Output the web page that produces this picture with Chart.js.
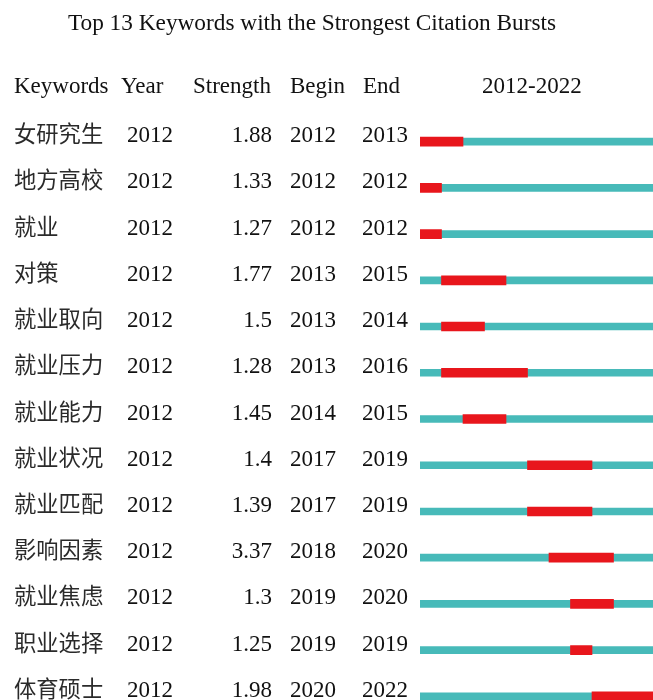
<!DOCTYPE html>
<html>
<head>
<meta charset="utf-8">
<script src="https://cdn.jsdelivr.net/npm/chart.js@4/dist/chart.umd.min.js"></script>
<style>
    html, body { margin: 0; padding: 0; background: #fff; overflow: hidden; }
    #wrap { position: relative; width: 660px; height: 720px; }
</style>
</head>
<body>
<div id="wrap"><canvas id="burstChart" width="660" height="720"></canvas></div>
<script>
// Burst table values
const keywords = ['女研究生', '地方高校', '就业', '对策', '就业取向', '就业压力', '就业能力',
    '就业状况', '就业匹配', '影响因素', '就业焦虑', '职业选择', '体育硕士'];
const years = [2012, 2012, 2012, 2012, 2012, 2012, 2012, 2012, 2012, 2012, 2012, 2012, 2012];
const strengths = ['1.88', '1.33', '1.27', '1.77', '1.5', '1.28', '1.45', '1.4', '1.39', '3.37', '1.3', '1.25', '1.98'];
const begins = [2012, 2012, 2012, 2013, 2013, 2013, 2014, 2017, 2017, 2018, 2019, 2019, 2020];
const ends = [2013, 2012, 2012, 2015, 2014, 2016, 2015, 2019, 2019, 2020, 2020, 2019, 2022];
const spanStart = 2012;
const spanEnd = 2022;

const FONT = '23px "Liberation Serif", "Times New Roman", serif';
const CJK_FONT = '22.3px "Noto Sans CJK SC", sans-serif';
const TEXT = '#111';

// Table text drawn next to the timeline
const tablePlugin = {
    id: 'tableText',
    afterDraw(chart) {
        const ctx = chart.ctx;
        const y = chart.scales.y;
        ctx.save();
        ctx.fillStyle = TEXT;
        ctx.textBaseline = 'alphabetic';

        ctx.font = '23.3px "Liberation Serif", "Times New Roman", serif';
        ctx.textAlign = 'center';
        ctx.fillText('Top 13 Keywords with the Strongest Citation Bursts', 312, 30);

        ctx.font = FONT;
        ctx.textAlign = 'left';
        ctx.fillText('Keywords', 14, 93);
        ctx.fillText('Year', 121, 93);
        ctx.fillText('Strength', 193, 93);
        ctx.fillText('Begin', 290, 93);
        ctx.fillText('End', 363, 93);
        ctx.fillText(spanStart + '-' + spanEnd, 482, 93);

        keywords.forEach((k, i) => {
            const py = y.getPixelForValue(i) + 0.5;
            ctx.textAlign = 'left';
            ctx.font = CJK_FONT;
            ctx.fillStyle = '#2a2a2a';
            ctx.fillText(k, 14, py);
            ctx.font = FONT;
            ctx.fillStyle = TEXT;
            ctx.fillText(String(years[i]), 127, py);
            ctx.fillText(String(begins[i]), 290, py);
            ctx.fillText(String(ends[i]), 362, py);
            ctx.textAlign = 'right';
            ctx.fillText(strengths[i], 272, py);
        });
        ctx.restore();
    }
};

new Chart(document.getElementById('burstChart'), {
    type: 'bar',
    data: {
        labels: keywords,
        datasets: [{
            label: 'Burst',
            data: begins.map((b, i) => [b, ends[i] + 1]),
            backgroundColor: '#E8161C',
            barThickness: 9,
            grouped: false,
            borderWidth: 0
        }, {
            label: 'Span',
            data: keywords.map(() => [spanStart, spanEnd + 1]),
            backgroundColor: '#47BAB9',
            barThickness: 7,
            grouped: false,
            borderWidth: 0
        }]
    },
    options: {
        indexAxis: 'y',
        responsive: false,
        animation: false,
        devicePixelRatio: 1,
        layout: { padding: { left: 420, right: 3.5, top: 118.5, bottom: 0.5 } },
        plugins: {
            legend: { display: false },
            tooltip: { enabled: false },
            title: { display: false }
        },
        scales: {
            x: { type: 'linear', min: spanStart, max: spanEnd + 1, display: false },
            y: { display: false, offset: true }
        }
    },
    plugins: [tablePlugin]
});
</script>
</body>
</html>
